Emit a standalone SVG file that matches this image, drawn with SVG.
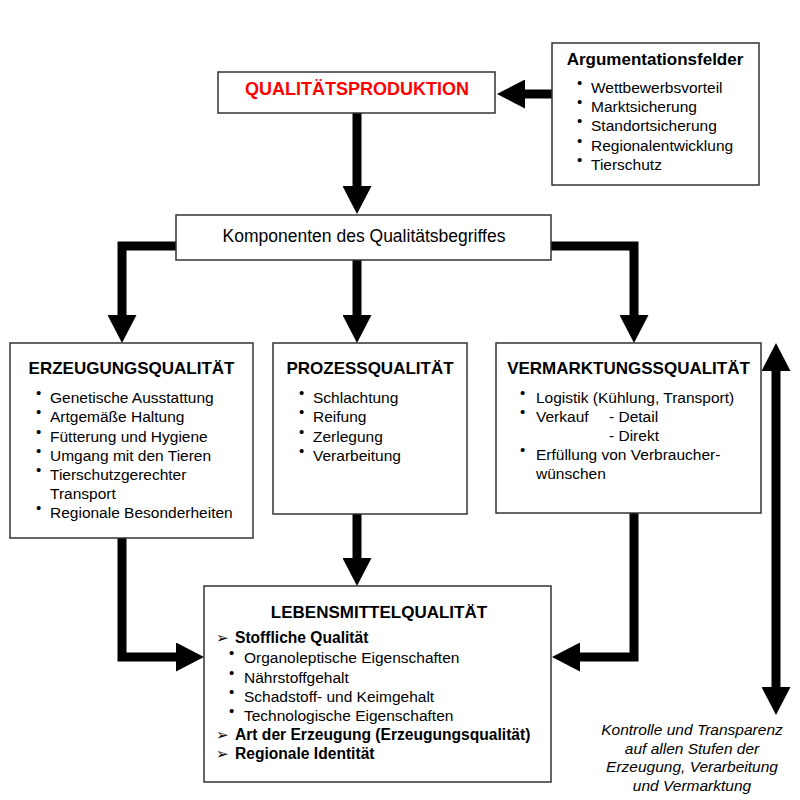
<svg xmlns="http://www.w3.org/2000/svg" width="800" height="800" viewBox="0 0 800 800">
<defs>
<marker id="ah" markerUnits="userSpaceOnUse" viewBox="0 0 28 29" refX="1" refY="14.5" markerWidth="28" markerHeight="29" orient="auto-start-reverse">
<path d="M0,0 L28,14.5 L0,29 z" fill="#000"/>
</marker>
</defs>
<style>
.box{fill:#fff;stroke:#333;stroke-width:1.5}
text{font-family:"Liberation Sans",Arial,sans-serif;fill:#000}
.t{font-size:17px;font-weight:bold;text-anchor:middle}
.i{font-size:15.5px}
.b{font-size:15.6px;font-weight:bold}
.d{font-size:15px}
.a{font-size:15px;font-family:"DejaVu Sans",sans-serif}
.it{font-size:15.5px;font-style:italic;text-anchor:middle}
.con{fill:none;stroke:#000;stroke-width:9;stroke-linejoin:miter;stroke-linecap:butt}
</style>
<rect width="800" height="800" fill="#fff"/>

<g id="connectors">
<path class="con" d="M552,94 H524" marker-end="url(#ah)"/>
<path class="con" d="M357,113 V187" marker-end="url(#ah)"/>
<path class="con" d="M176,246 H122 V316" marker-end="url(#ah)"/>
<path class="con" d="M357,260 V316" marker-end="url(#ah)"/>
<path class="con" d="M551,246 H634 V316" marker-end="url(#ah)"/>
<path class="con" d="M122,538 V657 H177" marker-end="url(#ah)"/>
<path class="con" d="M357,514 V559" marker-end="url(#ah)"/>
<path class="con" d="M634,513 V657 H579" marker-end="url(#ah)"/>
<path class="con" d="M776,370 V688" marker-start="url(#ah)" marker-end="url(#ah)"/>
</g>

<g id="qualitaetsproduktion">
<rect class="box" x="218" y="72" width="277" height="41"/>
<text class="t" x="357" y="94.5" style="font-size:18px;fill:#ff0000">QUALITÄTSPRODUKTION</text>
</g>

<g id="argumentationsfelder">
<rect class="box" x="552" y="43" width="207" height="142"/>
<text class="t" x="655" y="65">Argumentationsfelder</text>
<text class="d" x="577" y="88">•</text><text class="i" x="591" y="93">Wettbewerbsvorteil</text>
<text class="d" x="577" y="107">•</text><text class="i" x="591" y="112">Marktsicherung</text>
<text class="d" x="577" y="126">•</text><text class="i" x="591" y="131">Standortsicherung</text>
<text class="d" x="577" y="146">•</text><text class="i" x="591" y="151">Regionalentwicklung</text>
<text class="d" x="577" y="165">•</text><text class="i" x="591" y="170">Tierschutz</text>
</g>

<g id="komponenten">
<rect class="box" x="176" y="215" width="375" height="45"/>
<text x="364" y="242" style="font-size:17.5px;text-anchor:middle">Komponenten des Qualitätsbegriffes</text>
</g>

<g id="erzeugungsqualitaet">
<rect class="box" x="10" y="343" width="243" height="195"/>
<text class="t" x="131.5" y="374">ERZEUGUNGSQUALITÄT</text>
<text class="d" x="36" y="398">•</text><text class="i" x="50" y="403">Genetische Ausstattung</text>
<text class="d" x="36" y="417">•</text><text class="i" x="50" y="422">Artgemäße Haltung</text>
<text class="d" x="36" y="436.5">•</text><text class="i" x="50" y="441.5">Fütterung und Hygiene</text>
<text class="d" x="36" y="456">•</text><text class="i" x="50" y="461">Umgang mit den Tieren</text>
<text class="d" x="36" y="475">•</text><text class="i" x="50" y="480">Tierschutzgerechter</text>
<text class="i" x="50" y="499">Transport</text>
<text class="d" x="36" y="513">•</text><text class="i" x="50" y="518">Regionale Besonderheiten</text>
</g>

<g id="prozessqualitaet">
<rect class="box" x="273" y="343" width="194" height="171"/>
<text class="t" x="370" y="374">PROZESSQUALITÄT</text>
<text class="d" x="299" y="398">•</text><text class="i" x="313" y="403">Schlachtung</text>
<text class="d" x="299" y="417">•</text><text class="i" x="313" y="422">Reifung</text>
<text class="d" x="299" y="436.5">•</text><text class="i" x="313" y="441.5">Zerlegung</text>
<text class="d" x="299" y="456">•</text><text class="i" x="313" y="461">Verarbeitung</text>
</g>

<g id="vermarktungsqualitaet">
<rect class="box" x="496" y="343" width="265" height="170"/>
<text class="t" x="628.5" y="374">VERMARKTUNGSSQUALITÄT</text>
<text class="d" x="520" y="398">•</text><text class="i" x="536" y="403">Logistik (Kühlung, Transport)</text>
<text class="d" x="520" y="417">•</text><text class="i" x="536" y="422">Verkauf</text><text class="i" x="609" y="422">- Detail</text>
<text class="i" x="609" y="441">- Direkt</text>
<text class="d" x="520" y="455">•</text><text class="i" x="536" y="460">Erfüllung von Verbraucher-</text>
<text class="i" x="536" y="479">wünschen</text>
</g>

<g id="lebensmittelqualitaet">
<rect class="box" x="204" y="586" width="347" height="196"/>
<text class="t" x="379" y="618">LEBENSMITTELQUALITÄT</text>
<text class="a" x="216" y="643">➢</text><text class="b" x="235" y="643">Stoffliche Qualität</text>
<text class="d" x="229" y="658">•</text><text class="i" x="244" y="663">Organoleptische Eigenschaften</text>
<text class="d" x="229" y="677.5">•</text><text class="i" x="244" y="682.5">Nährstoffgehalt</text>
<text class="d" x="229" y="696.5">•</text><text class="i" x="244" y="701.5">Schadstoff- und Keimgehalt</text>
<text class="d" x="229" y="715.5">•</text><text class="i" x="244" y="720.5">Technologische Eigenschaften</text>
<text class="a" x="216" y="740">➢</text><text class="b" x="235" y="740">Art der Erzeugung (Erzeugungsqualität)</text>
<text class="a" x="216" y="758.5">➢</text><text class="b" x="235" y="758.5">Regionale Identität</text>
</g>

<g id="kontrolle">
<text class="it" x="692" y="735">Kontrolle und Transparenz</text>
<text class="it" x="692" y="753.5">auf allen Stufen der</text>
<text class="it" x="692" y="772">Erzeugung, Verarbeitung</text>
<text class="it" x="692" y="790.5">und Vermarktung</text>
</g>
</svg>
